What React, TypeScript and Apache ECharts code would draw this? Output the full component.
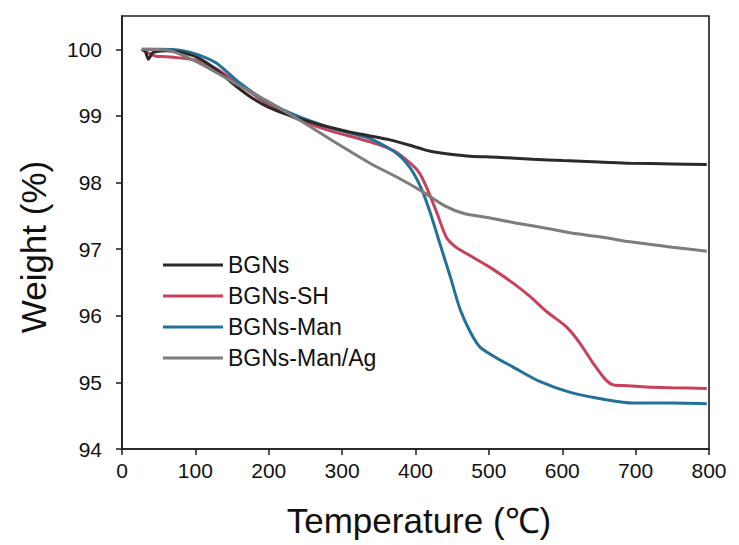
import React, { useEffect, useRef } from "react";
import * as echarts from "echarts";

const seriesNames = ["BGNs", "BGNs-SH", "BGNs-Man", "BGNs-Man/Ag"];

const bgnsT = [27, 32, 36, 42, 60, 83, 106, 130, 155, 180, 200, 230, 260, 283, 310, 338, 365, 392, 410, 420, 437, 470, 511, 560, 601, 650, 692, 750, 797];
const bgnsW = [100, 99.96, 99.85, 99.95, 99.98, 99.95, 99.86, 99.68, 99.45, 99.25, 99.13, 99.0, 98.9, 98.83, 98.76, 98.7, 98.64, 98.56, 98.5, 98.47, 98.44, 98.4, 98.38, 98.35, 98.33, 98.31, 98.29, 98.28, 98.27];

const shT = [27, 35, 45, 60, 88, 106, 130, 160, 200, 240, 283, 338, 370, 392, 405, 415, 429, 442, 455, 470, 501, 533, 556, 579, 606, 624, 642, 660, 670, 690, 715, 750, 797];
const shW = [100, 99.95, 99.9, 99.89, 99.86, 99.82, 99.7, 99.47, 99.17, 98.95, 98.78, 98.61, 98.48, 98.3, 98.15, 97.93, 97.55, 97.18, 97.03, 96.93, 96.73, 96.49, 96.29, 96.06, 95.83, 95.59, 95.29, 95.03, 94.96, 94.95, 94.93, 94.92, 94.91];

const manT = [27, 50, 83, 106, 129, 161, 197, 243, 288, 338, 374, 392, 408, 420, 433, 447, 461, 475, 488, 510, 533, 570, 611, 660, 697, 750, 797];
const manW = [100, 100, 99.98, 99.91, 99.79, 99.49, 99.22, 98.98, 98.81, 98.66, 98.44, 98.23, 97.91, 97.55, 97.09, 96.6, 96.09, 95.75, 95.53, 95.37, 95.23, 95.01, 94.85, 94.74, 94.69, 94.69, 94.68];

const agT = [27, 61, 106, 151, 197, 243, 288, 338, 380, 410, 440, 465, 500, 538, 580, 620, 660, 692, 750, 797];
const agW = [100, 99.99, 99.79, 99.51, 99.23, 98.93, 98.62, 98.29, 98.05, 97.86, 97.65, 97.54, 97.47, 97.39, 97.31, 97.23, 97.17, 97.11, 97.03, 96.97];

const colors = ["#2b2a26", "#c8415b", "#23719a", "#7f7c7c"];

const xTicks = { min: 0, max: 800, interval: 100 };
const yTicks = { min: 94, max: 100.5, interval: 1 };

const FONT = "'Liberation Sans', Arial, sans-serif";

function pairs(t: number[], w: number[]) {
  return t.map((v, i) => [v, w[i]]);
}

export default function App() {
  const ref = useRef<HTMLDivElement>(null);
  useEffect(() => {
    document.body.style.margin = "0";
    if (!ref.current) return;
    const chart = echarts.init(ref.current, null, { renderer: "svg" });
    const allData = [pairs(bgnsT, bgnsW), pairs(shT, shW), pairs(manT, manW), pairs(agT, agW)];
    chart.setOption({
      animation: false,
      backgroundColor: "#ffffff",
      grid: {
        left: 122,
        right: 30,
        top: 16,
        bottom: 96,
        show: true,
        borderColor: "#1c1c1c",
        borderWidth: 1.6,
        containLabel: false,
      },
      legend: {
        orient: "vertical",
        left: 163,
        top: 253,
        padding: 0,
        icon: "rect",
        itemWidth: 60,
        itemHeight: 3,
        itemGap: 7,
        data: seriesNames,
        textStyle: { fontSize: 23, color: "#111", fontFamily: FONT, lineHeight: 24 },
      },
      xAxis: {
        type: "value",
        min: xTicks.min,
        max: xTicks.max,
        interval: xTicks.interval,
        axisLine: { show: true, lineStyle: { color: "#1c1c1c", width: 1.6 } },
        axisTick: { show: true, inside: false, length: 6, lineStyle: { color: "#1c1c1c", width: 1.5 } },
        axisLabel: { fontSize: 21, color: "#111", fontFamily: FONT, margin: 11 },
        splitLine: { show: false },
      },
      yAxis: {
        type: "value",
        min: yTicks.min,
        max: yTicks.max,
        interval: yTicks.interval,
        axisLine: { show: true, lineStyle: { color: "#1c1c1c", width: 1.6 } },
        axisTick: { show: true, inside: false, length: 6, lineStyle: { color: "#1c1c1c", width: 1.5 } },
        axisLabel: { fontSize: 21, color: "#111", fontFamily: FONT, margin: 20, showMaxLabel: false },
        splitLine: { show: false },
      },
      graphic: [
        {
          type: "text",
          x: 33,
          y: 247,
          rotation: Math.PI / 2,
          style: {
            text: "Weight (%)",
            fontSize: 35,
            fontFamily: FONT,
            fill: "#111",
            align: "center",
            verticalAlign: "middle",
          },
        },
        {
          type: "text",
          x: 419,
          y: 520,
          style: {
            text: "Temperature (℃)",
            fontSize: 35,
            fontFamily: FONT,
            fill: "#111",
            align: "center",
            verticalAlign: "middle",
          },
        },
      ],
      series: seriesNames.map((name, i) => ({
        name,
        type: "line",
        data: allData[i],
        smooth: 0.25,
        showSymbol: false,
        symbol: "none",
        color: colors[i],
        lineStyle: { width: 3, color: colors[i] },
        z: i === 0 ? 5 : 2 + i,
      })),
    });
    return () => chart.dispose();
  }, []);
  return <div ref={ref} style={{ width: 739, height: 545 }} />;
}
